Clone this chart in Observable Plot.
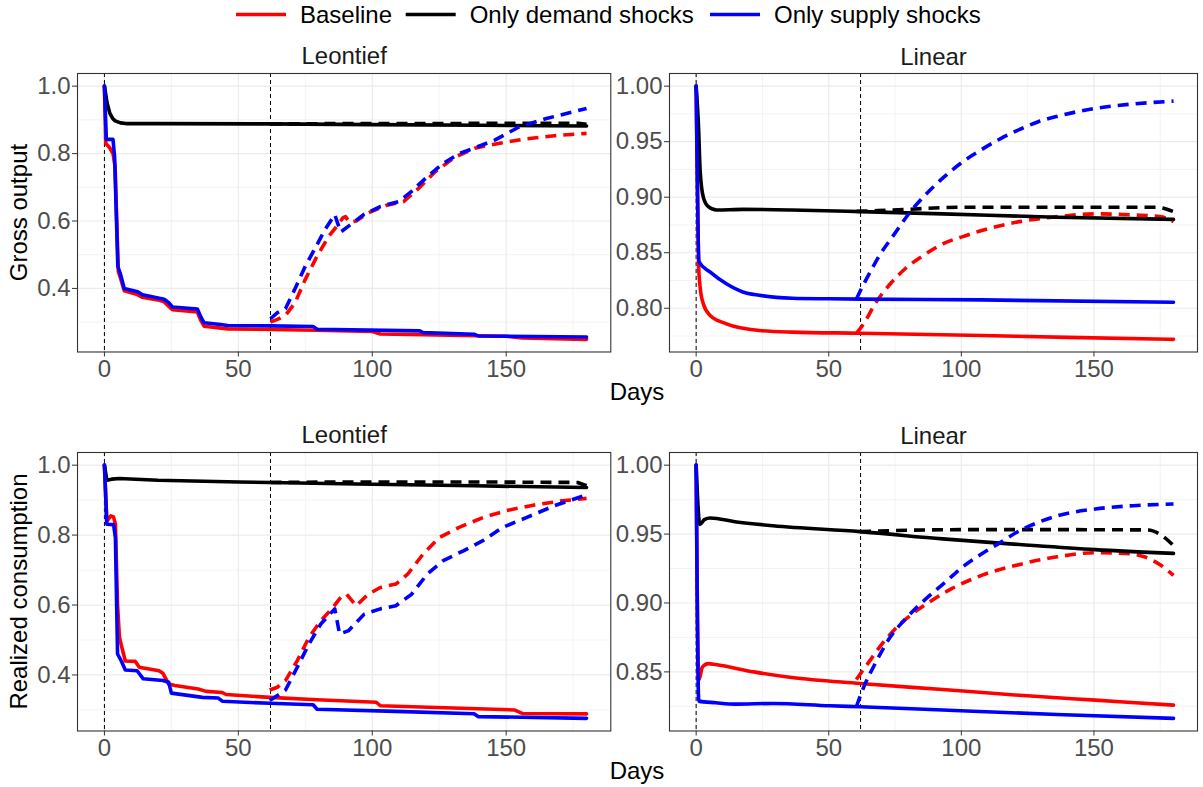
<!DOCTYPE html>
<html><head><meta charset="utf-8">
<script src="https://cdn.jsdelivr.net/npm/d3@7"></script>
<script src="https://cdn.jsdelivr.net/npm/@observablehq/plot@0.6"></script>
<style>
body{margin:0;background:#fff;}
#root{position:relative;width:1203px;height:787px;overflow:hidden;font-family:"Liberation Sans",Arial,sans-serif;}
#root svg{position:absolute;overflow:visible;}
</style></head><body><div id="root"></div>
<script>
// ---------- labels ----------
const scenarios = ["Baseline", "Only demand shocks", "Only supply shocks"];
const scenarioColors = ["#FF0000", "#000000", "#0000FF"];
const rowTitles = ["Gross output", "Realized consumption"];
const colTitles = ["Leontief", "Linear"];
const xTitle = "Days";
const xTicks = [0, 50, 100, 150];
const xMinor = [25, 75, 125, 175];
const xMarkers = [0, 62];
const yTicksLeon = [0.4, 0.6, 0.8, 1.0];
const yMinorLeon = [0.3, 0.5, 0.7, 0.9];
const yTicksOutLin = [0.80, 0.85, 0.90, 0.95, 1.00];
const yMinorOutLin = [0.775, 0.825, 0.875, 0.925, 0.975];
const yTicksConLin = [0.85, 0.90, 0.95, 1.00];
const yMinorConLin = [0.825, 0.875, 0.925, 0.975];

// ---------- data: [day, value] ----------
// Gross output, Leontief
const outLeonBase = [[0,1.0],[0.5,0.83],[1.9,0.818],[3.2,0.80],[4.0,0.76],[4.6,0.60],[5.2,0.45],[6,0.43],[7.4,0.393],[12,0.383],[14,0.374],[20,0.366],[22.3,0.36],[24,0.347],[25.4,0.337],[34.7,0.330],[36,0.305],[37.2,0.288],[46,0.280],[62,0.278],[79,0.276],[100,0.272],[103,0.265],[150,0.258],[156,0.253],[180,0.249]];
const outLeonDemand = [[0,1.0],[1,0.95],[2,0.92],[3,0.905],[4,0.897],[6,0.891],[8,0.889],[20,0.889],[62,0.888],[100,0.886],[140,0.884],[180,0.882]];
const outLeonSupply = [[0,1.0],[0.7,0.842],[3.2,0.842],[3.8,0.79],[4.4,0.63],[5.0,0.465],[5.9,0.445],[7.4,0.40],[12.4,0.39],[14.2,0.381],[22.3,0.368],[24.1,0.357],[25.4,0.345],[34.7,0.339],[35.9,0.317],[37.2,0.298],[43.4,0.293],[46,0.290],[62,0.289],[77.9,0.287],[79.4,0.279],[117.7,0.274],[119,0.269],[138,0.264],[139.5,0.259],[180,0.256]];
const outLeonBaseRec = [[62,0.30],[64.6,0.308],[67.6,0.32],[71.2,0.358],[75,0.427],[79.4,0.496],[83.8,0.555],[86.7,0.584],[89,0.609],[90,0.613],[91.5,0.596],[94,0.60],[98.5,0.624],[105,0.646],[111.8,0.658],[117.7,0.70],[123.6,0.747],[131,0.79],[138.3,0.816],[147,0.83],[156,0.842],[168,0.853],[180,0.86]];
const outLeonDemandRec = [[62,0.888],[90,0.889],[140,0.8895],[177,0.8895],[180,0.887]];
const outLeonSupplyRec = [[62,0.31],[64.6,0.328],[67.6,0.34],[71.2,0.40],[75,0.466],[79.4,0.53],[82.3,0.574],[86,0.619],[88.2,0.567],[91,0.584],[97,0.62],[103,0.643],[110,0.658],[114.7,0.688],[120.6,0.732],[126.5,0.771],[132.4,0.80],[138,0.816],[145.7,0.84],[154.6,0.878],[165,0.904],[180,0.934]];
// Gross output, Linear
const outLinBase = [[0,1.0],[0.9,0.84],[1.5,0.819],[2.7,0.804],[5.2,0.7937],[11.4,0.786],[23.8,0.780],[36.3,0.7785],[62,0.7775],[107.7,0.7754],[140,0.7738],[180,0.772]];
const outLinDemand = [[0,1.0],[0.9,0.963],[1.5,0.924],[2.7,0.90],[4.6,0.8915],[7.7,0.8885],[17.6,0.889],[36,0.8885],[62,0.887],[93,0.885],[136,0.882],[180,0.880]];
const outLinSupply = [[0,1.0],[1.1,0.8417],[5.2,0.8327],[11.4,0.822],[17.6,0.8147],[23.8,0.8117],[36.3,0.809],[50,0.8085],[62,0.8082],[107.7,0.8075],[180,0.8054]];
const outLinBaseRec = [[60.5,0.7775],[63.3,0.7865],[67.6,0.8045],[73.4,0.8225],[79,0.836],[86,0.848],[93.4,0.8585],[100.6,0.8645],[107.7,0.87],[122,0.878],[136.4,0.8825],[150.7,0.885],[165,0.884],[175,0.8825],[180,0.878]];
const outLinDemandRec = [[60.5,0.8872],[79,0.889],[100,0.891],[130,0.891],[173.6,0.891],[180,0.887]];
const outLinSupplyRec = [[60.5,0.8085],[62.6,0.819],[64.8,0.829],[69,0.847],[74.8,0.867],[80.5,0.886],[86,0.901],[93.4,0.918],[100.6,0.932],[107.7,0.943],[115,0.953],[122,0.961],[129,0.968],[136.4,0.973],[150.7,0.980],[165,0.984],[180,0.9865]];
// Realized consumption, Leontief
const conLeonBase = [[0,1.0],[0.9,0.84],[2.4,0.855],[3.4,0.852],[4.1,0.831],[4.9,0.60],[5.6,0.508],[6.8,0.47],[7.8,0.44],[11.5,0.439],[13,0.422],[20.4,0.412],[21.8,0.405],[24,0.374],[26.3,0.37],[35,0.36],[38,0.353],[44,0.35],[45.4,0.344],[61.7,0.336],[79.4,0.329],[101.5,0.322],[103,0.312],[153,0.30],[156,0.29],[180,0.2886]];
const conLeonDemand = [[0,1.0],[0.9,0.957],[2.7,0.96],[5.6,0.962],[20,0.957],[50,0.952],[62,0.9505],[94,0.946],[138,0.941],[180,0.936]];
const conLeonSupply = [[0,1.0],[0.9,0.831],[3.4,0.83],[4.1,0.793],[4.9,0.46],[6.3,0.44],[7.8,0.414],[12.2,0.412],[14.5,0.389],[21.8,0.384],[24,0.379],[25,0.348],[36.6,0.336],[42.5,0.334],[44,0.325],[61.7,0.319],[77.9,0.315],[79.4,0.302],[108.8,0.296],[138,0.289],[139.5,0.281],[180,0.276]];
const conLeonBaseRec = [[61.7,0.357],[64.6,0.365],[67.6,0.384],[72,0.441],[76.4,0.508],[80.8,0.555],[85.3,0.593],[88.2,0.622],[90.4,0.631],[94,0.598],[98.5,0.631],[103,0.65],[108.8,0.66],[113.3,0.689],[119,0.746],[125,0.793],[132.4,0.822],[141.3,0.85],[150,0.87],[160.5,0.886],[170.8,0.898],[180,0.905]];
const conLeonDemandRec = [[62,0.9505],[90,0.952],[138,0.952],[176.7,0.9505],[180,0.941]];
const conLeonSupplyRec = [[61.7,0.327],[64.6,0.341],[67.6,0.357],[72,0.422],[76.4,0.489],[80.8,0.546],[86,0.589],[87.8,0.517],[91.2,0.527],[97,0.574],[103,0.589],[108.8,0.598],[114.7,0.631],[120.6,0.689],[126.5,0.727],[134,0.755],[141.3,0.784],[148.7,0.822],[157.5,0.85],[168,0.884],[180,0.915]];
// Realized consumption, Linear
const conLinBase = [[0,1.0],[1,0.844],[2.4,0.8536],[4.6,0.856],[7.4,0.8553],[21.7,0.85],[36,0.8459],[61.8,0.8416],[93,0.8372],[122,0.833],[150.5,0.8295],[180,0.8259]];
const conLinDemand = [[0,1.0],[1.4,0.957],[3.1,0.9605],[5.3,0.9617],[14.6,0.959],[29,0.956],[61.8,0.9518],[93,0.9465],[122,0.9424],[150.5,0.9387],[180,0.936]];
const conLinSupply = [[0,1.0],[1,0.8288],[7.4,0.8276],[14.6,0.8266],[29,0.8271],[50.4,0.8254],[61.8,0.8247],[93,0.8223],[136,0.8191],[180,0.8163]];
const conLinBaseRec = [[60.4,0.8445],[64.7,0.856],[70.4,0.871],[76,0.883],[81.8,0.8925],[89,0.902],[96,0.910],[107.6,0.920],[122,0.928],[136.2,0.9335],[150.5,0.9365],[162,0.936],[169,0.9335],[174.8,0.928],[180,0.92]];
const conLinDemandRec = [[61.8,0.9518],[80,0.9528],[100,0.9532],[140,0.9532],[170.5,0.953],[174.8,0.95],[180,0.9416]];
const conLinSupplyRec = [[60.4,0.8247],[63.2,0.839],[67.5,0.856],[73.2,0.8753],[79,0.8886],[86,0.9019],[93.3,0.914],[100.4,0.926],[107.6,0.9356],[114.8,0.944],[122,0.9525],[129,0.9585],[136.2,0.9633],[150.5,0.9682],[164.8,0.9706],[180,0.9718]];

// ---------- panels ----------
const panels = [
  {row:0, col:0, yTicks:yTicksLeon, yMinor:yMinorLeon, fmt:".1f", curve:"linear",
   solid:[outLeonBase,outLeonDemand,outLeonSupply], rec:[outLeonBaseRec,outLeonDemandRec,outLeonSupplyRec]},
  {row:0, col:1, yTicks:yTicksOutLin, yMinor:yMinorOutLin, fmt:".2f", curve:"monotone-x",
   solid:[outLinBase,outLinDemand,outLinSupply], rec:[outLinBaseRec,outLinDemandRec,outLinSupplyRec]},
  {row:1, col:0, yTicks:yTicksLeon, yMinor:yMinorLeon, fmt:".1f", curve:"linear",
   solid:[conLeonBase,conLeonDemand,conLeonSupply], rec:[conLeonBaseRec,conLeonDemandRec,conLeonSupplyRec]},
  {row:1, col:1, yTicks:yTicksConLin, yMinor:yMinorConLin, fmt:".2f", curve:"monotone-x",
   solid:[conLinBase,conLinDemand,conLinSupply], rec:[conLinBaseRec,conLinDemandRec,conLinSupplyRec]}
];

// layout (pixels)
const frameLeft = [76.7, 669.3];
const frameTop = [73.3, 452.3];
const frameW = [533.3, 528];
const frameH = 278.5;
const mL = 72, mR = 6, mT = 40, mB = 38;
const FONT = "Liberation Sans, Arial, sans-serif";

const root = document.getElementById("root");

for (const p of panels) {
  const allVals = [...p.solid, ...p.rec].flat().map(d => d[1]);
  const lo = d3.min(allVals), hi = d3.max(allVals), pad = (hi - lo) * 0.05;
  const marks = [
    Plot.gridX(xMinor, {stroke: "#EBEBEB", strokeOpacity: 1, strokeWidth: 0.6}),
    Plot.gridY(p.yMinor, {stroke: "#EBEBEB", strokeOpacity: 1, strokeWidth: 0.6}),
    Plot.gridX(xTicks, {stroke: "#EBEBEB", strokeOpacity: 1, strokeWidth: 1.2}),
    Plot.gridY(p.yTicks, {stroke: "#EBEBEB", strokeOpacity: 1, strokeWidth: 1.2}),
    Plot.ruleX(xMarkers, {stroke: "#000", strokeWidth: 1, strokeDasharray: "4,3"})
  ];
  for (let i = 0; i < 3; i++) {
    marks.push(Plot.line(p.solid[i], {x: d => d[0], y: d => d[1], curve: p.curve, stroke: scenarioColors[i], strokeWidth: 3.6, strokeLinejoin: "round"}));
    marks.push(Plot.line(p.rec[i], {x: d => d[0], y: d => d[1], curve: p.curve, stroke: scenarioColors[i], strokeWidth: 3.6, strokeDasharray: "11,7", strokeLinecap: "butt"}));
  }
  marks.push(
    Plot.frame({stroke: "#333333", strokeWidth: 1.1}),
    Plot.axisX(xTicks, {tickSize: 5, tickPadding: 3, fontSize: 24, stroke: "#333333", fill: "#4D4D4D", label: null}),
    Plot.axisY(p.yTicks, {tickSize: 5, tickPadding: 2, fontSize: 24, stroke: "#333333", fill: "#4D4D4D", tickFormat: d3.format(p.fmt), label: null}),
    Plot.text([colTitles[p.col]], {frameAnchor: "top", dy: -9, lineAnchor: "bottom", fontSize: 24, fill: "#1A1A1A", text: d => d})
  );
  const chart = Plot.plot({
    width: frameW[p.col] + mL + mR, height: frameH + mT + mB,
    marginLeft: mL, marginRight: mR, marginTop: mT, marginBottom: mB,
    x: {domain: [-10.05, 189.05]},
    y: {domain: [lo - pad, hi + pad]},
    style: {fontFamily: FONT, background: "transparent", overflow: "visible"},
    marks
  });
  chart.style.left = (frameLeft[p.col] - mL) + "px";
  chart.style.top = (frameTop[p.row] - mT) + "px";
  root.appendChild(chart);
}

// ---------- overlay: legend and axis titles ----------
const ov = d3.select(root).append("svg")
  .attr("width", 1203).attr("height", 787)
  .style("left", "0px").style("top", "0px")
  .style("font-family", FONT);

const legendKeyX = [236, 405.7, 710];
const legendY = 14.5;
scenarios.forEach((s, i) => {
  ov.append("line").attr("x1", legendKeyX[i]).attr("x2", legendKeyX[i] + 50)
    .attr("y1", legendY).attr("y2", legendY)
    .attr("stroke", scenarioColors[i]).attr("stroke-width", 3.6);
  ov.append("text").attr("x", legendKeyX[i] + 64).attr("y", legendY)
    .attr("dy", "0.35em").attr("font-size", 24).attr("fill", "#000").text(s);
});

const plotCenterX = (frameLeft[0] + frameLeft[1] + frameW[1]) / 2;
[0, 1].forEach(r => {
  ov.append("text").attr("x", plotCenterX).attr("y", frameTop[r] + frameH + 48)
    .attr("text-anchor", "middle").attr("font-size", 24).attr("fill", "#000").text(xTitle);
  const cy = frameTop[r] + frameH / 2;
  ov.append("text").attr("transform", `translate(27,${cy}) rotate(-90)`)
    .attr("text-anchor", "middle").attr("font-size", 24).attr("fill", "#000").text(rowTitles[r]);
});
</script></body></html>
